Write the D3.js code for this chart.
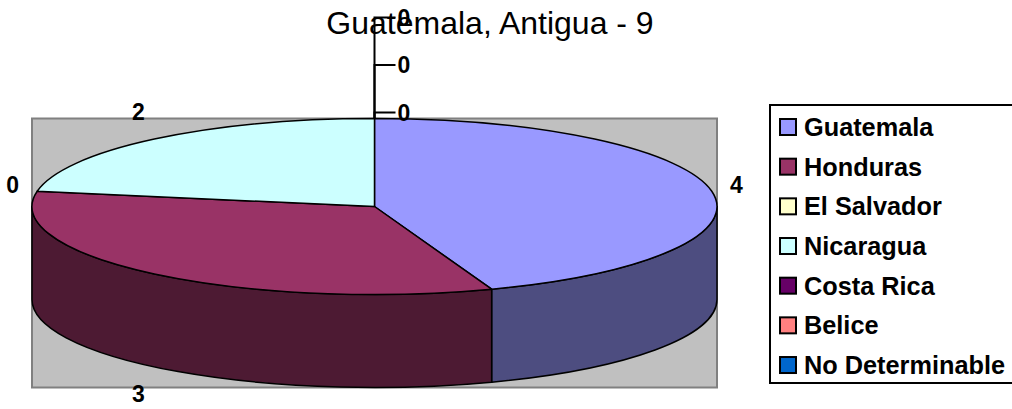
<!DOCTYPE html>
<html>
<head>
<meta charset="utf-8">
<script src="https://cdn.jsdelivr.net/npm/d3@7"></script>
<style>
  html, body { margin: 0; padding: 0; background: #ffffff; }
  svg { display: block; }
</style>
</head>
<body>
<svg id="chart" width="1012" height="409"></svg>
<script>
// ---- data ----
const title = "Guatemala, Antigua - 9";
const categories = ["Guatemala", "Honduras", "El Salvador", "Nicaragua", "Costa Rica", "Belice", "No Determinable"];
const values = [4, 3, 0, 2, 0, 0, 0];
const topColors = ["#9999FF", "#993366", "#FFFFCC", "#CCFFFF", "#660066", "#FF8080", "#0066CC"];

// ---- layout ----
const W = 1012, H = 409;
const cx = 374.5, cy = 206.5, rx = 342.5, ry = 88, depth = 93;

const svg = d3.select("#chart");

const data = categories.map((c, i) => ({ name: c, value: values[i], color: topColors[i], i }));
const pie = d3.pie().sort(null).value(d => d.value).startAngle(0).endAngle(2 * Math.PI);
const arcs = pie(data);

// projection scales for the tilted ellipse
const xs = d3.scaleLinear().domain([-1, 1]).range([cx - rx, cx + rx]);
const ys = d3.scaleLinear().domain([-1, 1]).range([cy - ry, cy + ry]);
const px = a => xs(Math.sin(a));
const py = a => ys(-Math.cos(a));

const darker = c => { const k = d3.rgb(c); return d3.rgb(k.r * 0.5, k.g * 0.5, k.b * 0.5).toString(); };

// plot area background (bounding box of the pie)
svg.append("rect")
  .attr("x", xs(-1)).attr("y", ys(-1))
  .attr("width", xs(1) - xs(-1)).attr("height", ys(1) + depth - ys(-1))
  .attr("fill", "#C0C0C0").attr("stroke", "#808080").attr("stroke-width", 2);

// side walls (front half only: angles between PI/2 and 3PI/2)
const sideG = svg.append("g");
arcs.forEach(a => {
  const s = Math.max(a.startAngle, Math.PI / 2);
  const e = Math.min(a.endAngle, 3 * Math.PI / 2);
  if (e <= s) return;
  const path = `M${px(s)},${py(s)} A${rx},${ry} 0 0 1 ${px(e)},${py(e)} ` +
               `L${px(e)},${py(e) + depth} A${rx},${ry} 0 0 0 ${px(s)},${py(s) + depth} Z`;
  sideG.append("path").attr("d", path)
    .attr("fill", darker(a.data.color))
    .attr("stroke", "#000").attr("stroke-width", 1.5).attr("stroke-linejoin", "round");
});

// top faces
const topG = svg.append("g");
arcs.forEach(a => {
  if (a.endAngle - a.startAngle <= 0) return;
  const large = (a.endAngle - a.startAngle) > Math.PI ? 1 : 0;
  const path = `M${cx},${cy} L${px(a.startAngle)},${py(a.startAngle)} ` +
               `A${rx},${ry} 0 ${large} 1 ${px(a.endAngle)},${py(a.endAngle)} Z`;
  topG.append("path").attr("d", path)
    .attr("fill", a.data.color)
    .attr("stroke", "#000").attr("stroke-width", 1.5).attr("stroke-linejoin", "round");
});

// title (drawn before labels so label stacking matches the reference overlap)
svg.append("text")
  .attr("x", 490).attr("y", 34)
  .attr("text-anchor", "middle")
  .attr("font-family", "Arial, 'Liberation Sans', sans-serif")
  .attr("font-size", 32).attr("fill", "#000")
  .text(title);

// data labels
const labelG = svg.append("g")
  .attr("font-family", "Arial, 'Liberation Sans', sans-serif")
  .attr("font-weight", "bold").attr("font-size", 23).attr("fill", "#000");
const offX = 25, offY = 35;
const stackStep = 47.5;
// group labels by mid angle to detect collisions
const groups = d3.group(arcs, a => ((a.startAngle + a.endAngle) / 2).toFixed(4));
groups.forEach(list => {
  if (list.length === 1) {
    const a = list[0];
    const m = (a.startAngle + a.endAngle) / 2;
    const front = Math.cos(m) < 0 ? depth : 0;
    const x = cx + (rx + offX) * Math.sin(m);
    const y = cy - (ry + offY) * Math.cos(m) + front;
    labelG.append("text").attr("x", x).attr("y", y)
      .attr("text-anchor", "middle").attr("dominant-baseline", "central")
      .text(a.data.value);
  } else {
    // stacked labels with leader lines
    const m = (list[0].startAngle + list[0].endAngle) / 2;
    const ex = px(m), ey = py(m);
    list.forEach((a, k) => {
      const ly = ey - 6 - k * stackStep;
      svg.append("path")
        .attr("d", `M${ex + 21},${ly} L${ex},${ly} L${ex},${ey}`)
        .attr("fill", "none").attr("stroke", "#000").attr("stroke-width", 2);
      labelG.append("text").attr("x", ex + 23).attr("y", ly)
        .attr("text-anchor", "start").attr("dominant-baseline", "central")
        .text(a.data.value);
    });
  }
});
labelG.raise();

// legend
const lg = svg.append("g");
lg.append("rect").attr("x", 770).attr("y", 105).attr("width", 250).attr("height", 278)
  .attr("fill", "#fff").attr("stroke", "#000").attr("stroke-width", 2);
const ly0 = 127, lstep = 39.67;
data.forEach((d, i) => {
  const y = ly0 + i * lstep;
  lg.append("rect").attr("x", 780).attr("y", y - 8).attr("width", 16).attr("height", 16)
    .attr("fill", d.color).attr("stroke", "#000").attr("stroke-width", 2);
  lg.append("text").attr("x", 804).attr("y", y)
    .attr("dominant-baseline", "central")
    .attr("font-family", "Arial, 'Liberation Sans', sans-serif")
    .attr("font-weight", "bold").attr("font-size", 25.3).attr("fill", "#000")
    .text(d.name);
});
</script>
</body>
</html>
